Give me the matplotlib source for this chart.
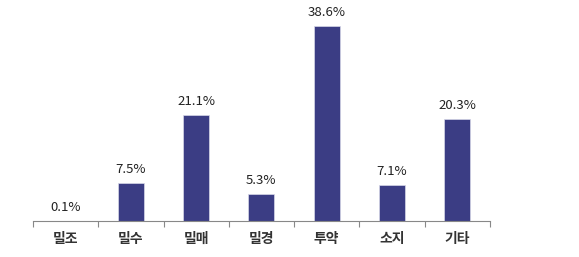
import matplotlib.pyplot as plt
import numpy as np

plt.rcParams['font.family'] = ['Noto Sans CJK KR', 'DejaVu Sans']

# 데이터
categories = ["밀조", "밀수", "밀매", "밀경", "투약", "소지", "기타"]
values = [0.1, 7.5, 21.1, 5.3, 38.6, 7.1, 20.3]
value_labels = ["0.1%", "7.5%", "21.1%", "5.3%", "38.6%", "7.1%", "20.3%"]

BAR_COLOR = "#3b3d84"

fig = plt.figure(figsize=(5.79, 2.57), dpi=100)
ax = fig.add_axes([0.057, 0.140, 0.789, 0.860])

x = np.arange(len(categories))
bars = ax.bar(x, values, width=0.4, color=BAR_COLOR, edgecolor="#d8d8e8", linewidth=0.5)

for rect, lab in zip(bars, value_labels):
    ax.annotate(lab, (rect.get_x() + rect.get_width() / 2, rect.get_height()),
                xytext=(0, 5), textcoords="offset points",
                ha='center', va='bottom', fontsize=9.5, color="#222222")

ax.set_xlim(-0.5, len(categories) - 0.5)
ax.set_ylim(0, 43.8)

for s in ["top", "right", "left"]:
    ax.spines[s].set_visible(False)
ax.spines["bottom"].set_color("#888888")
ax.spines["bottom"].set_linewidth(0.8)

ax.set_yticks([])
ax.set_xticks(np.arange(-0.5, len(categories), 1.0))
ax.set_xticklabels([])
ax.tick_params(axis='x', length=4, color="#888888", direction='out')
ax.set_xticks(x, minor=True)
ax.set_xticklabels(categories, minor=True, fontsize=10, fontweight='bold', color="#333333")
ax.tick_params(axis='x', which='minor', length=0, pad=8)

fig.savefig("out.png", dpi=100, facecolor='white')
